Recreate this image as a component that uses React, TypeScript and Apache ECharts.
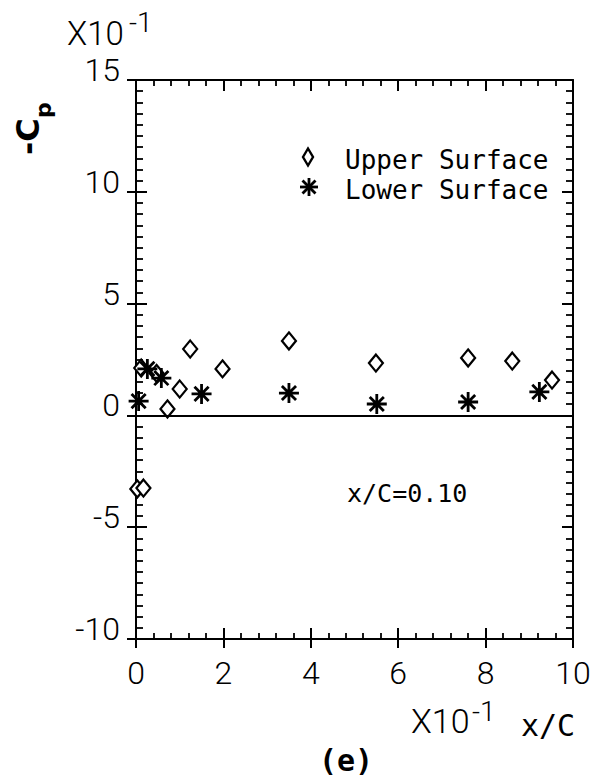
import React, { useEffect, useRef } from "react";
import * as echarts from "echarts";

const upperX = [0.03, 0.17, 0.12, 0.47, 0.72, 1.0, 1.24, 1.98, 3.5, 5.49, 7.6, 8.61, 9.52];
const upperY = [-3.29, -3.25, 2.12, 1.88, 0.29, 1.18, 2.97, 2.08, 3.33, 2.34, 2.57, 2.43, 1.58];
const lowerX = [0.06, 0.26, 0.58, 1.5, 3.5, 5.51, 7.6, 9.23];
const lowerY = [0.64, 2.08, 1.67, 0.96, 1.0, 0.51, 0.6, 1.05];

const xTicks = [0, 2, 4, 6, 8, 10];
const yTicks = [-10, -5, 0, 5, 10, 15];

const STAR = "path://M0,-10L0,10M-10,0L10,0M-7.07,-7.07L7.07,7.07M-7.07,7.07L7.07,-7.07";
const THIN = "Roboto";
const MONO = "DejaVu Sans Mono";

export default function App() {
  const ref = useRef<HTMLDivElement>(null);
  useEffect(() => {
    if (!ref.current) return;
    const chart = echarts.init(ref.current, null, { renderer: "svg" });
    const axisLine = { show: true, onZero: false, lineStyle: { color: "#000", width: 2 } };
    const majorTick = { show: true, inside: true, length: 11, lineStyle: { color: "#000", width: 2 } };
    const baseX = {
      type: "value",
      min: xTicks[0],
      max: xTicks[xTicks.length - 1],
      interval: 2,
      splitLine: { show: false },
    };
    const baseY = {
      type: "value",
      min: yTicks[0],
      max: yTicks[yTicks.length - 1],
      interval: 5,
      splitLine: { show: false },
    };
    const option: any = {
      animation: false,
      backgroundColor: "#fff",
      grid: { left: 136, right: 33, top: 80, bottom: 139, containLabel: false },
      xAxis: [
        {
          ...baseX,
          position: "bottom",
          axisLine,
          axisTick: majorTick,
          minorTick: { show: true, splitNumber: 5, length: 6, lineStyle: { color: "#000", width: 1.8 } },
          axisLabel: {
            show: true,
            margin: 18,
            color: "#000",
            fontFamily: THIN,
            fontWeight: 300,
            fontSize: 32,
            lineHeight: 32,
          },
        },
        {
          ...baseX,
          position: "top",
          axisLine,
          axisTick: majorTick,
          minorTick: { show: true, splitNumber: 5, length: 6, lineStyle: { color: "#000", width: 1.8 } },
          axisLabel: { show: false },
        },
        {
          ...baseX,
          position: "bottom",
          axisLine: { show: false, onZero: false },
          axisTick: { show: true, inside: false, length: 9, lineStyle: { color: "#000", width: 2 } },
          axisLabel: { show: false },
        },
      ],
      yAxis: [
        {
          ...baseY,
          position: "left",
          axisLine,
          axisTick: majorTick,
          minorTick: { show: true, splitNumber: 10, length: 7, lineStyle: { color: "#000", width: 1.8 } },
          axisLabel: {
            show: true,
            margin: 16,
            color: "#000",
            fontFamily: THIN,
            fontWeight: 300,
            fontSize: 32,
            lineHeight: 20,
            verticalAlign: "bottom",
          },
        },
        {
          ...baseY,
          position: "right",
          axisLine,
          axisTick: majorTick,
          minorTick: { show: true, splitNumber: 10, length: 7, lineStyle: { color: "#000", width: 1.8 } },
          axisLabel: { show: false },
        },
        {
          ...baseY,
          position: "left",
          axisLine: { show: false, onZero: false },
          axisTick: { show: true, inside: false, length: 9, lineStyle: { color: "#000", width: 2 } },
          axisLabel: { show: false },
        },
      ],
      series: [
        {
          name: "Upper Surface",
          type: "scatter",
          xAxisIndex: 0,
          yAxisIndex: 0,
          symbol: "diamond",
          symbolSize: [14, 17],
          itemStyle: { color: "#fff", borderColor: "#000", borderWidth: 2.2, opacity: 1 },
          data: upperX.map((x, i) => [x, upperY[i]]),
          markLine: {
            silent: true,
            symbol: ["none", "none"],
            label: { show: false },
            lineStyle: { color: "#000", width: 2, type: "solid" },
            data: [{ yAxis: 0 }],
          },
          z: 3,
        },
        {
          name: "Lower Surface",
          type: "scatter",
          xAxisIndex: 0,
          yAxisIndex: 0,
          symbol: STAR,
          symbolSize: 20,
          itemStyle: { color: "transparent", borderColor: "#000", borderWidth: 2.8, opacity: 1 },
          data: lowerX.map((x, i) => [x, lowerY[i]]),
          z: 4,
        },
      ],
      graphic: [
        // top-left multiplier
        { type: "text", x: 67, y: 33, style: { text: "X10", fontFamily: THIN, fontWeight: 300, fontSize: 33, fill: "#000", align: "left", verticalAlign: "middle" } },
        { type: "text", x: 129, y: 22, style: { text: "-1", fontFamily: THIN, fontWeight: 300, fontSize: 28, fill: "#000", align: "left", verticalAlign: "middle" } },
        // y axis name -Cp (rotated)
        { type: "text", x: 28, y: 155, rotation: Math.PI / 2, style: { text: "-C", fontFamily: "DejaVu Sans", fontWeight: "bold", fontSize: 32, fill: "#000", align: "left", verticalAlign: "middle" } },
        { type: "text", x: 43, y: 118, rotation: Math.PI / 2, style: { text: "p", fontFamily: "DejaVu Sans", fontWeight: "bold", fontSize: 22, fill: "#000", align: "left", verticalAlign: "middle" } },
        // legend
        { type: "polygon", shape: { points: [[303, 157], [308, 148.5], [313, 157], [308, 165.5]] }, style: { fill: "#fff", stroke: "#000", lineWidth: 2.4 } },
        { type: "text", x: 345, y: 160, style: { text: "Upper Surface", fontFamily: MONO, fontSize: 26, fill: "#000", align: "left", verticalAlign: "middle" } },
        {
          type: "group",
          x: 309,
          y: 187,
          children: [
            { type: "line", shape: { x1: 0, y1: -9, x2: 0, y2: 9 }, style: { stroke: "#000", lineWidth: 2.8 } },
            { type: "line", shape: { x1: -9, y1: 0, x2: 9, y2: 0 }, style: { stroke: "#000", lineWidth: 2.8 } },
            { type: "line", shape: { x1: -6.5, y1: -6.5, x2: 6.5, y2: 6.5 }, style: { stroke: "#000", lineWidth: 2.8 } },
            { type: "line", shape: { x1: -6.5, y1: 6.5, x2: 6.5, y2: -6.5 }, style: { stroke: "#000", lineWidth: 2.8 } },
          ],
        },
        { type: "text", x: 345, y: 190, style: { text: "Lower Surface", fontFamily: MONO, fontSize: 26, fill: "#000", align: "left", verticalAlign: "middle" } },
        // annotation
        { type: "text", x: 347, y: 493, style: { text: "x/C=0.10", fontFamily: MONO, fontSize: 25, fill: "#000", align: "left", verticalAlign: "middle" } },
        // x axis name
        { type: "text", x: 411, y: 721, style: { text: "X10", fontFamily: THIN, fontWeight: 300, fontSize: 34, fill: "#000", align: "left", verticalAlign: "middle" } },
        { type: "text", x: 472, y: 711, style: { text: "-1", fontFamily: THIN, fontWeight: 300, fontSize: 28, fill: "#000", align: "left", verticalAlign: "middle" } },
        { type: "text", x: 521, y: 725, style: { text: "x/C", fontFamily: MONO, fontWeight: 500, fontSize: 30, fill: "#000", align: "left", verticalAlign: "middle" } },
        // panel label
        { type: "text", x: 346, y: 760, style: { text: "(e)", fontFamily: MONO, fontWeight: "bold", fontSize: 30, fill: "#000", align: "center", verticalAlign: "middle" } },
      ],
    };
    chart.setOption(option);
    return () => chart.dispose();
  }, []);
  return <div ref={ref} style={{ width: 606, height: 778, position: "absolute", left: 0, top: 0 }} />;
}
